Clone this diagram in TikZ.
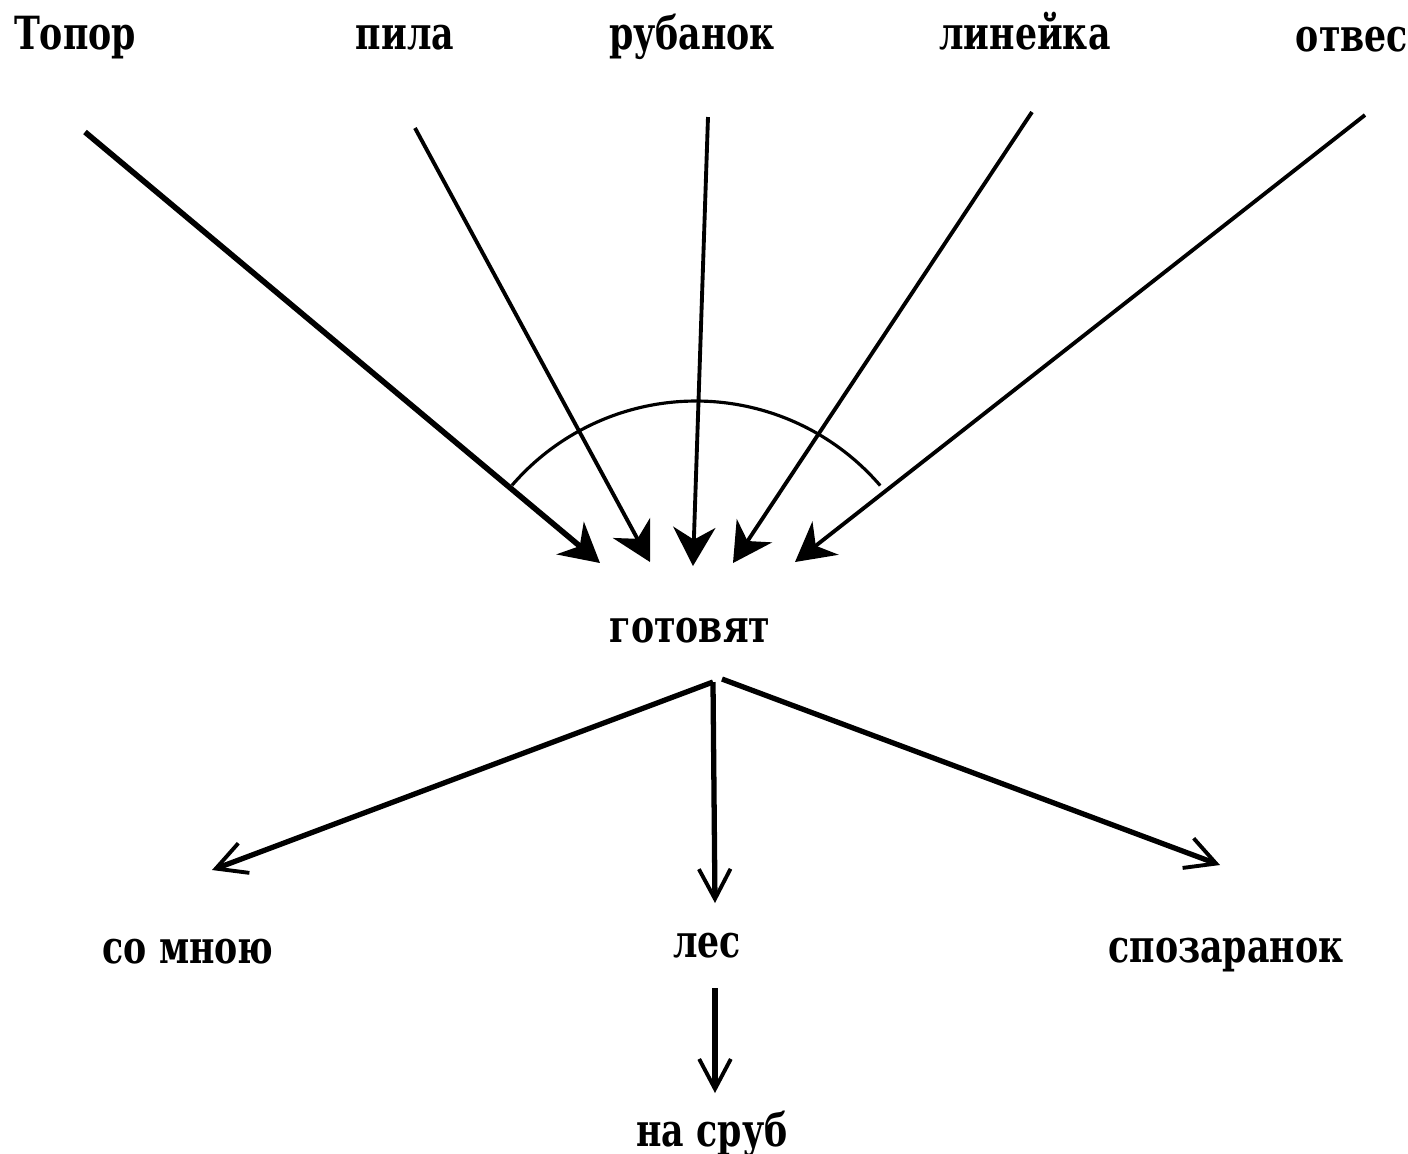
\documentclass[tikz,border=0pt]{standalone}
\usepackage{fontspec}
\setmainfont{DejaVu Serif}[FakeStretch=0.76]
\usetikzlibrary{arrows.meta}

\begin{document}
\begin{tikzpicture}[x=0.01cm, y=-0.01cm, font=\fontsize{13}{15}\selectfont\bfseries,
  word/.style={anchor=base, inner sep=2pt},
  inarrow/.style={-{Stealth[length=11pt, width=12pt, inset=3.5pt]}, line width=1.1pt},
  outarrow/.style={-{Straight Barb[length=8.5pt, width=9pt, line width=1.1pt]}, line width=1.5pt}]

\useasboundingbox (0,0) rectangle (1408,1153);

% =============== tools ===============
\node[word] (topor)   at (75,49)   {Топор};
\node[word] (pila)    at (405,49)  {пила};
\node[word] (rubanok) at (692,49)  {рубанок};
\node[word] (lineyka) at (1025,49) {линейка};
\node[word] (otves)   at (1352,51) {отвес};

\coordinate (topor-t)   at (85,132);   \coordinate (topor-h)   at (600,563);
\coordinate (pila-t)    at (415,128);  \coordinate (pila-h)    at (650,562);
\coordinate (rubanok-t) at (708,117);  \coordinate (rubanok-h) at (693,566);
\coordinate (lineyka-t) at (1032,112); \coordinate (lineyka-h) at (733,563);
\coordinate (otves-t)   at (1365,115); \coordinate (otves-h)   at (795,562);

\draw[inarrow, line width=1.6pt] (topor-t) -- (topor-h);
\foreach \n in {pila,rubanok,lineyka,otves}
  \draw[inarrow] (\n-t) -- (\n-h);

% arc over the bundle
\coordinate (hub) at (696,644);
\draw[line width=0.9pt] (hub) ++(-139.2:243) arc[start angle=-139.2, end angle=-40.7, radius=243];

% =============== verb and its words ===============
\node[word] (gotovyat) at (690,642) {готовят};

\coordinate (fork)   at (713,682);
\coordinate (fork-r) at (722,679);
\coordinate (somnoyu-h) at (212,870);
\coordinate (les-h)     at (715,903);
\coordinate (spoz-h)    at (1220,865);

\draw[outarrow] (fork) -- (somnoyu-h);
\draw[outarrow] (fork) -- (les-h);
\draw[outarrow] (fork-r) -- (spoz-h);

\node[word] (somnoyu)    at (188,963)  {со мною};
\node[word] (les)        at (707,957)  {лес};
\node[word] (spozaranok) at (1226,962) {спозаранок};

\coordinate (drop-t) at (715,988);
\coordinate (drop-h) at (715,1093);
\draw[outarrow] (drop-t) -- (drop-h);

\node[word] (nasrub) at (712,1146) {на сруб};

\end{tikzpicture}
\end{document}
